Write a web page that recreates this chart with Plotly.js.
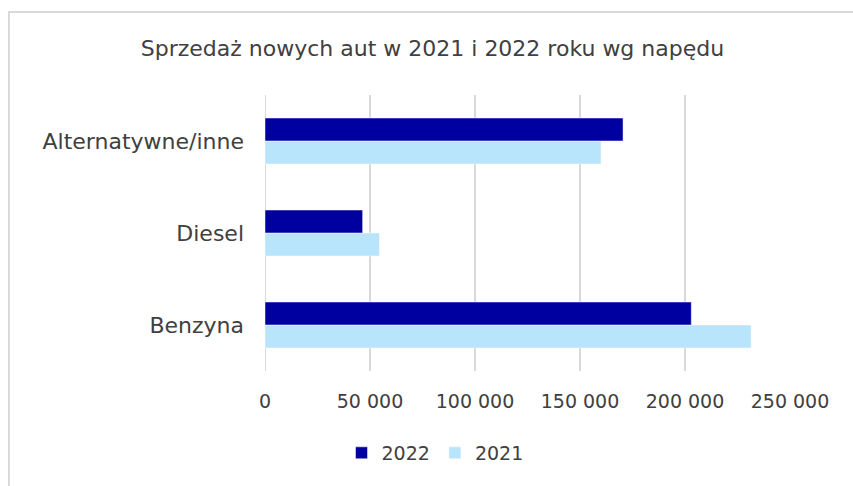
<!DOCTYPE html>
<html>
<head>
<meta charset="utf-8">
<script src="https://cdn.plot.ly/plotly-3.0.1.min.js"></script>
<style>
html,body{margin:0;padding:0;background:#fff;}
#wrap{position:relative;width:853px;height:486px;overflow:hidden;}
#frame{position:absolute;left:8px;top:11px;width:900px;height:600px;border-left:2px solid #d9d9d9;border-top:2px solid #d9d9d9;pointer-events:none;}
#chart{position:absolute;left:0;top:0;width:853px;height:486px;}
</style>
</head>
<body>
<div id="wrap"><div id="chart"></div><div id="frame"></div></div>
<script>
const categories = ["Benzyna", "Diesel", "Alternatywne/inne"];
const series2022 = [203000, 46500, 170500];
const series2021 = [231500, 54500, 160000];
const tickValues = [0, 50000, 100000, 150000, 200000, 250000];
const tickLabels = ["0", "50 000", "100 000", "150 000", "200 000", "250 000"];
const titleText = "Sprzedaż nowych aut w 2021 i 2022 roku wg napędu";

const fontFam = "'DejaVu Sans', sans-serif";
const traces = [
  {type:'bar', orientation:'h', name:'2021', y:categories, x:series2021,
   marker:{color:'#B8E4FC', line:{color:'#ffffff', width:0.5}}, hoverinfo:'none'},
  {type:'bar', orientation:'h', name:'2022', y:categories, x:series2022,
   marker:{color:'#0000A0', line:{color:'#ffffff', width:0.5}}, hoverinfo:'none'}
];
const layout = {
  width:853, height:486,
  paper_bgcolor:'rgba(0,0,0,0)', plot_bgcolor:'rgba(0,0,0,0)',
  margin:{l:265, r:63, t:95, b:115},
  barmode:'group', bargap:0.5, bargroupgap:0,
  font:{family:fontFam, color:'#404040', size:18},
  title:{text:titleText, x:0.507, xanchor:'center', xref:'container', y:0.9, yanchor:'middle', yref:'container',
         font:{family:fontFam, size:22, color:'#404040'}},
  xaxis:{range:[0,250000], tickvals:tickValues, ticktext:tickLabels, showgrid:true, gridcolor:'#d9d9d9', gridwidth:2,
         zeroline:false, showline:false, ticks:'', ticklabelstandoff:17, tickfont:{size:19, color:'#404040'}, fixedrange:true},
  yaxis:{type:'category', categoryorder:'array', categoryarray:categories, range:[-0.5,2.5],
         showgrid:false, zeroline:false, showline:false, ticks:'', ticklabelstandoff:20,
         tickfont:{size:22, color:'#404040'}, fixedrange:true},
  showlegend:true,
  legend:{orientation:'h', traceorder:'reversed', x:0.51, xref:'container', xanchor:'center', y:0.068, yref:'container', yanchor:'middle',
          font:{size:19, color:'#404040'}, itemwidth:30},
  shapes:[{type:'line', xref:'x', yref:'paper', x0:0, x1:0, y0:0, y1:1, line:{color:'#d9d9d9', width:2}, layer:'below'}]
};
Plotly.newPlot('chart', traces, layout, {displayModeBar:false, staticPlot:true});
</script>
</body>
</html>
